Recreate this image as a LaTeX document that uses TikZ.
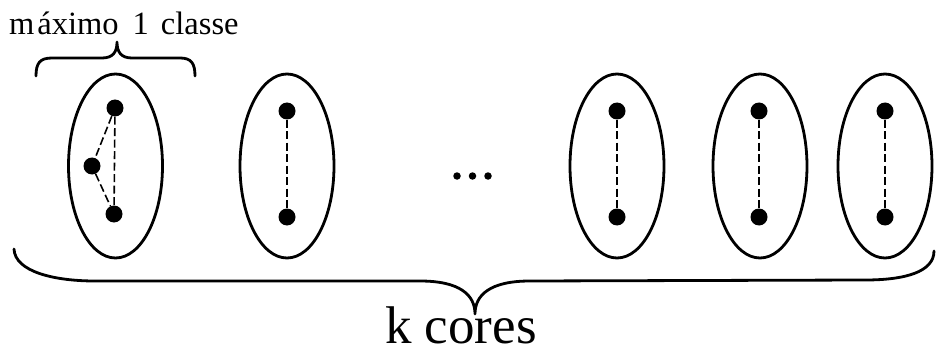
\documentclass[tikz,border=0pt]{standalone}
\usepackage{fontspec}
\setmainfont{Liberation Serif}
\usetikzlibrary{shapes.geometric}
\begin{document}
\begin{tikzpicture}[x=1pt,y=-1pt,
  cell/.style={draw,ellipse,line width=2.8pt,minimum width=94pt,minimum height=184pt,inner sep=0pt},
  vtx/.style={circle,fill=black,minimum size=17pt,inner sep=0pt},
  pt/.style={circle,fill=black,minimum size=7.5pt,inner sep=0pt},
  link/.style={dashed,line width=1.6pt,dash pattern=on 8pt off 3.5pt},
  brace/.style={line width=2.8pt,line cap=round,line join=round}]
\useasboundingbox (0,0) rectangle (937,350);

% the k cells
\node[cell] (c1) at (115.5,166) {};
\node[cell] (c2) at (287,166) {};
\node[cell] (c3) at (617,166) {};
\node[cell] (c4) at (760,166) {};
\node[cell] (c5) at (885,166) {};

% first cell: three vertices
\node[vtx] (a1) at (115,108) {};
\node[vtx] (a2) at (92,166) {};
\node[vtx] (a3) at (114,214) {};
\draw[link] (a1) -- (a2);
\draw[link] (a2) -- (a3);
\draw[link] (a1) -- (a3);

% remaining cells: two vertices each
\foreach \n/\x in {b/287,d/617,e/759,f/885}{
  \node[vtx] (\n1) at (\x,111) {};
  \node[vtx] (\n2) at (\x,217) {};
  \draw[link] (\n1) -- (\n2);
}

% ellipsis between the cells
\node[pt] (p1) at (457,176) {};
\node[pt] (p2) at (472.5,176) {};
\node[pt] (p3) at (488,176) {};

% small brace over the first cell
\draw[brace] (36,76) .. controls (36,63) and (40,58) .. (52,58) -- (102,58)
  .. controls (113,58) and (117,52) .. (117,42)
  .. controls (117,52) and (121,58) .. (132,58) -- (180,58)
  .. controls (191,58) and (195,63) .. (195,76);
\node[anchor=base west,inner sep=0pt,font=\fontsize{32.5}{36}\selectfont] (top) at (9,35)
  {m\kern3ptáximo\hspace{14pt}1\hspace{12pt}classe};

% large brace under all cells
\draw[brace] (14,249) .. controls (15,272) and (55,281) .. (95,281) -- (420,281)
  .. controls (460,281) and (475,295) .. (475,314)
  .. controls (475,295) and (490,281) .. (530,281) -- (865,280)
  .. controls (905,280) and (934,272) .. (934,251);
\node[anchor=base,inner sep=0pt,font=\fontsize{53}{58}\selectfont] (bottom) at (461,343) {k cores};
\end{tikzpicture}
\end{document}
